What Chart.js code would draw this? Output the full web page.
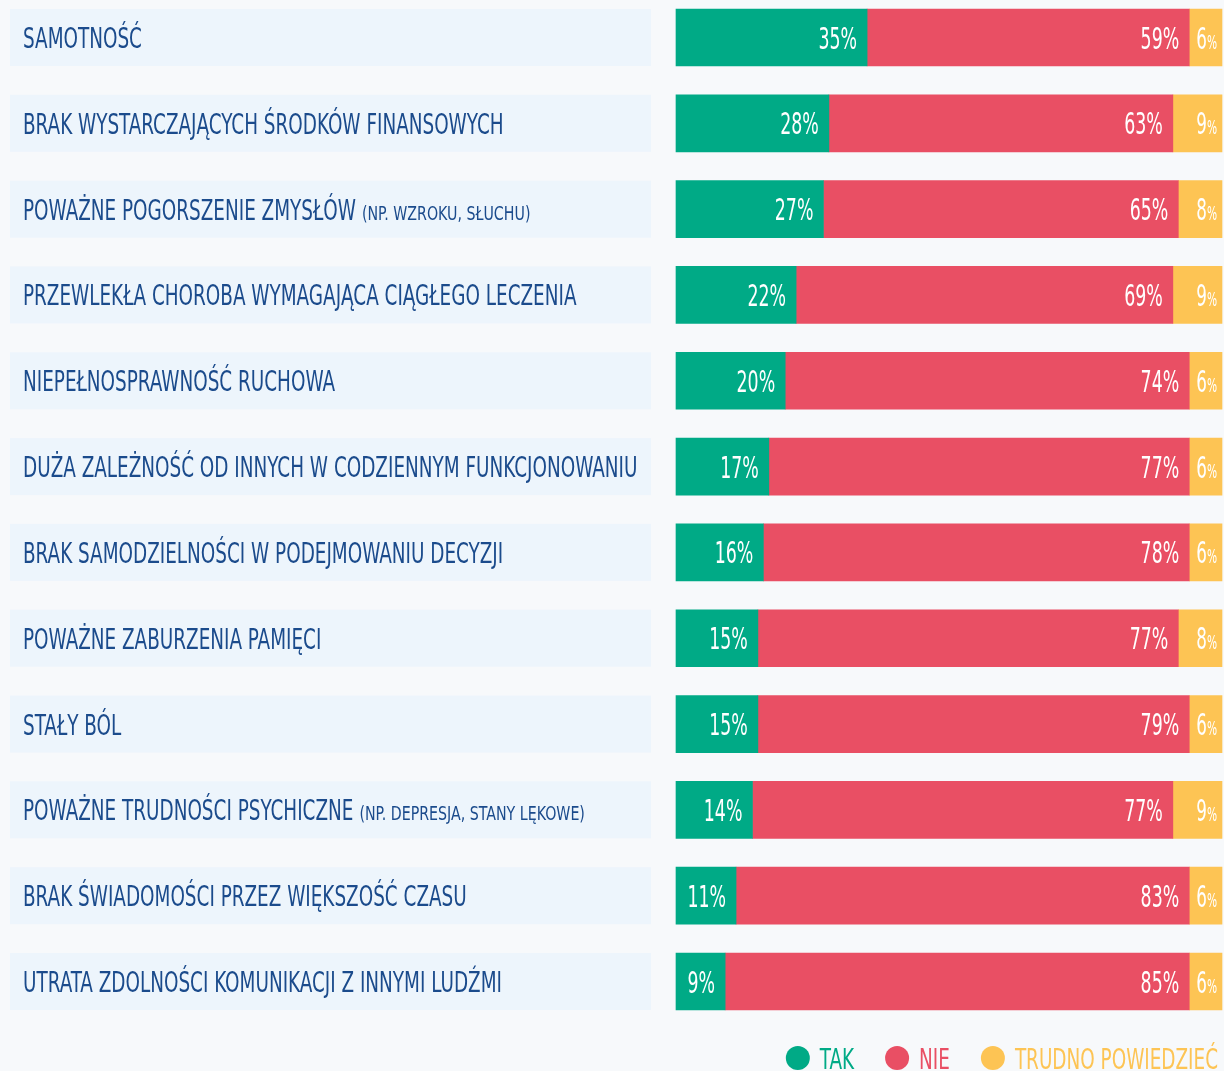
<!DOCTYPE html>
<html lang="pl">
<head>
    <meta charset="UTF-8">
    <title>Czy to sprawia, że życie nie jest warte życia?</title>
    <script src="https://cdn.jsdelivr.net/npm/chart.js@4.4.0/dist/chart.umd.min.js"></script>
    <style>
        html, body {
            margin: 0;
            padding: 0;
            background-color: #f7f9fb;
        }
        #chart {
            display: block;
        }
    </style>
</head>
<body>
    <canvas id="chart" width="1224" height="1071"></canvas>

    <script>
        // categories (main text + smaller note in brackets)
        const categories = [
            'SAMOTNOŚĆ',
            'BRAK WYSTARCZAJĄCYCH ŚRODKÓW FINANSOWYCH',
            'POWAŻNE POGORSZENIE ZMYSŁÓW',
            'PRZEWLEKŁA CHOROBA WYMAGAJĄCA CIĄGŁEGO LECZENIA',
            'NIEPEŁNOSPRAWNOŚĆ RUCHOWA',
            'DUŻA ZALEŻNOŚĆ OD INNYCH W CODZIENNYM FUNKCJONOWANIU',
            'BRAK SAMODZIELNOŚCI W PODEJMOWANIU DECYZJI',
            'POWAŻNE ZABURZENIA PAMIĘCI',
            'STAŁY BÓL',
            'POWAŻNE TRUDNOŚCI PSYCHICZNE',
            'BRAK ŚWIADOMOŚCI PRZEZ WIĘKSZOŚĆ CZASU',
            'UTRATA ZDOLNOŚCI KOMUNIKACJI Z INNYMI LUDŹMI'
        ];
        const categoryNotes = ['', '', '(NP. WZROKU, SŁUCHU)', '', '', '', '', '', '', '(NP. DEPRESJA, STANY LĘKOWE)', '', ''];

        const seriesNames = ['TAK', 'NIE', 'TRUDNO POWIEDZIEĆ'];
        const takValues = [35, 28, 27, 22, 20, 17, 16, 15, 15, 14, 11, 9];
        const nieValues = [59, 63, 65, 69, 74, 77, 78, 77, 79, 77, 83, 85];
        const trudnoValues = [6, 9, 8, 9, 6, 6, 6, 8, 6, 9, 6, 6];

        const colors = ['#00aa86', '#e94f64', '#fdc454'];
        const labelFont = '"DejaVu Sans Condensed", sans-serif';
        const numberFont = '"DejaVu Sans", sans-serif';

        // draws text squeezed horizontally, returns drawn width
        function squeezedText(ctx, text, x, y, scaleX, align) {
            const w = ctx.measureText(text).width * scaleX;
            let left = x;
            if (align === 'right') left = x - w;
            ctx.save();
            ctx.translate(left, y);
            ctx.scale(scaleX, 1);
            ctx.textAlign = 'left';
            ctx.fillText(text, 0, 0);
            ctx.restore();
            return w;
        }

        // light blue boxes with the category names on the left
        const categoryBoxes = {
            id: 'categoryBoxes',
            beforeDatasetsDraw(chart) {
                const ctx = chart.ctx;
                const yScale = chart.scales.y;
                const half = 57 / 2;
                ctx.save();
                ctx.textBaseline = 'alphabetic';
                categories.forEach((name, i) => {
                    const y = yScale.getPixelForValue(i);
                    ctx.fillStyle = '#edf5fc';
                    ctx.fillRect(10, y - half, chart.chartArea.left - 25 - 10, 57);

                    ctx.fillStyle = '#1b4b8c';
                    ctx.font = '28px ' + labelFont;
                    const w = squeezedText(ctx, name, 23, y + 10.5, 0.73, 'left');
                    if (categoryNotes[i]) {
                        ctx.font = '20px ' + labelFont;
                        squeezedText(ctx, categoryNotes[i], 23 + w + 6, y + 10.5, 0.79, 'left');
                    }
                });
                ctx.restore();
            }
        };

        // percentage labels inside the bars
        const valueLabels = {
            id: 'valueLabels',
            afterDatasetsDraw(chart) {
                const ctx = chart.ctx;
                ctx.save();
                ctx.fillStyle = '#ffffff';
                ctx.textBaseline = 'alphabetic';
                chart.data.datasets.forEach((ds, d) => {
                    const meta = chart.getDatasetMeta(d);
                    meta.data.forEach((bar, i) => {
                        const v = ds.data[i];
                        const y = bar.y + 11;
                        if (d === 2) {
                            const right = bar.x - 5;
                            ctx.font = '19px ' + numberFont;
                            const pw = squeezedText(ctx, '%', right, y, 0.56, 'right');
                            ctx.font = '30px ' + numberFont;
                            squeezedText(ctx, String(v), right - pw, y, 0.56, 'right');
                        } else {
                            ctx.font = '30px ' + numberFont;
                            squeezedText(ctx, v + '%', bar.x - 10, y, 0.58, 'right');
                        }
                    });
                });
                ctx.restore();
            }
        };

        // legend at the bottom right
        const bottomLegend = {
            id: 'bottomLegend',
            afterDraw(chart) {
                const ctx = chart.ctx;
                const cy = 1058;
                const r = 12;
                ctx.save();
                ctx.font = '28px ' + labelFont;
                ctx.textBaseline = 'alphabetic';
                let x = chart.width - 6;
                for (let d = chart.data.datasets.length - 1; d >= 0; d--) {
                    const ds = chart.data.datasets[d];
                    ctx.fillStyle = ds.backgroundColor;
                    const w = squeezedText(ctx, ds.label, x, cy + 10.5, 0.73, 'right');
                    const cx = x - w - 10 - r;
                    ctx.beginPath();
                    ctx.arc(cx, cy, r, 0, Math.PI * 2);
                    ctx.fill();
                    x = cx - r - 31;
                }
                ctx.restore();
            }
        };

        const seriesValues = [takValues, nieValues, trudnoValues];

        new Chart(document.getElementById('chart'), {
            type: 'bar',
            data: {
                labels: categories,
                datasets: seriesNames.map((name, k) => ({
                    label: name,
                    data: seriesValues[k],
                    backgroundColor: colors[k],
                    borderWidth: 0,
                    barThickness: 57,
                    clip: false
                }))
            },
            options: {
                indexAxis: 'y',
                responsive: false,
                devicePixelRatio: 1,
                animation: false,
                layout: {
                    padding: { left: 676, right: 2, top: 37.5, bottom: 89.5 }
                },
                scales: {
                    x: { stacked: true, min: 0, max: 100, display: false },
                    y: { stacked: true, display: false, offset: false }
                },
                plugins: {
                    legend: { display: false },
                    tooltip: { enabled: false }
                }
            },
            plugins: [categoryBoxes, valueLabels, bottomLegend]
        });
    </script>
</body>
</html>
